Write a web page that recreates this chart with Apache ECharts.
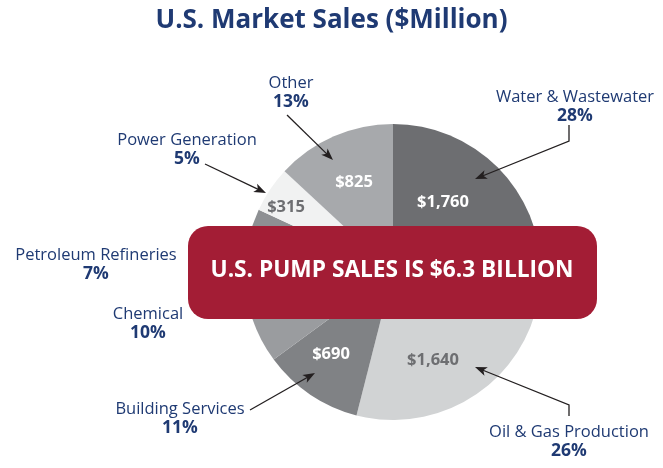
<!DOCTYPE html>
<html><head><meta charset="utf-8">
<script src="https://cdn.jsdelivr.net/npm/echarts@6/dist/echarts.min.js"></script>
<style>html,body{margin:0;padding:0;background:#fff}#c{width:663px;height:468px}</style>
</head><body><div id="c"></div>
<script>
var categories = ['Water & Wastewater','Oil & Gas Production','Building Services','Chemical','Petroleum Refineries','Power Generation','Other'];
var sales = [1760, 1640, 690, 630, 440, 315, 825];
var valueLabels = ['$1,760','$1,640','$690','$630','$440','$315','$825'];
var showValue = [true, true, true, false, false, true, true];

var colors = ['#6d6e71','#d1d3d4','#808285','#9a9c9f','#8e9093','#f1f2f2','#a7a9ac'];
var valueColors = ['#ffffff','#6d6e71','#ffffff','#ffffff','#ffffff','#6d6e71','#ffffff'];
var valuePos = [[443,202],[433,360],[331,354],[300,300],[280,250],[286,207],[354,182]];
var namePos = [[575,107],[569,442],[180,419],[148,324],[96,265],[187,150],[291,93]];
var navy = '#1f3a73';
var CX = 393, CY = 272, R = 148;

var data = categories.map(function(c,i){
  return {name:c, value:sales[i], itemStyle:{color:colors[i]},
    label:{show:showValue[i], color:valueColors[i]}};
});
var data2 = categories.map(function(c,i){ return {name:c, value:sales[i]}; });

var arrows = [
  [[569,125],[569,141],[475,179]],
  [[569,416],[569,405],[475,367]],
  [[250,410],[315,373]],
  [[205,164],[266,193]],
  [[287,115],[333,160]]
];
function arrowHead(p, q){
  var dx=q[0]-p[0], dy=q[1]-p[1], L=Math.sqrt(dx*dx+dy*dy); dx/=L; dy/=L;
  var len=12, w=4.5, back=9;
  var bx=q[0]-dx*len, by=q[1]-dy*len;
  var nx=-dy, ny=dx;
  return [[q[0],q[1]],[bx+nx*w,by+ny*w],[q[0]-dx*back,q[1]-dy*back],[bx-nx*w,by-ny*w]];
}
var graphics = [
  {type:'rect', z:100, shape:{x:188,y:226,width:409,height:93,r:20}, style:{fill:'#a31d35'}},
  {type:'text', z:101, x:392, y:271, style:{text:'U.S. PUMP SALES IS $6.3 BILLION', fill:'#ffffff',
    font:'bold 22.7px "Open Sans"', textAlign:'center', textVerticalAlign:'middle'}}
];
arrows.forEach(function(a){
  var n=a.length, p=a[n-2], q=a[n-1];
  var dx=q[0]-p[0], dy=q[1]-p[1], L=Math.sqrt(dx*dx+dy*dy);
  var pts=a.slice(0,n-1).concat([[q[0]-dx/L*8,q[1]-dy/L*8]]);
  graphics.push({type:'polyline', z:102, shape:{points:pts}, style:{stroke:'#231f20', lineWidth:1.3, fill:null}});
  graphics.push({type:'polygon', z:102, shape:{points:arrowHead(p,q)}, style:{fill:'#231f20'}});
});

var chart = echarts.init(document.getElementById('c'), null, {renderer:'canvas'});
chart.setOption({
  animation:false,
  title:{text:'U.S. Market Sales ($Million)', left:'center', top:3,
    textStyle:{color:navy, fontFamily:'Open Sans', fontWeight:'bold', fontSize:26}},
  series:[
    {type:'pie', center:[CX,CY], radius:R, startAngle:90, clockwise:true, silent:true,
     data:data, itemStyle:{borderWidth:0},
     label:{position:'inside', formatter:function(p){return valueLabels[p.dataIndex];},
       fontFamily:'Open Sans', fontWeight:'bold', fontSize:16.5},
     labelLine:{show:false},
     labelLayout:function(p){var q=valuePos[p.dataIndex];return {x:q[0],y:q[1],align:'center',verticalAlign:'middle'};}
    },
    {type:'pie', center:[CX,CY], radius:R, startAngle:90, clockwise:true, silent:true,
     percentPrecision:0, data:data2, itemStyle:{color:'rgba(0,0,0,0)'},
     label:{position:'outside', overflow:'none', formatter:'{n|{b}}\n{p|{d}%}', align:'center',
       rich:{n:{fontFamily:'Open Sans', fontSize:16.5, color:navy, lineHeight:19, align:'center'},
             p:{fontFamily:'Open Sans', fontWeight:'bold', fontSize:17.5, color:navy, lineHeight:19, align:'center'}}},
     labelLine:{show:false},
     labelLayout:function(p){var q=namePos[p.dataIndex];return {x:q[0],y:q[1],align:'center',verticalAlign:'middle'};}
    }
  ],
  graphic:graphics
});
</script></body></html>
